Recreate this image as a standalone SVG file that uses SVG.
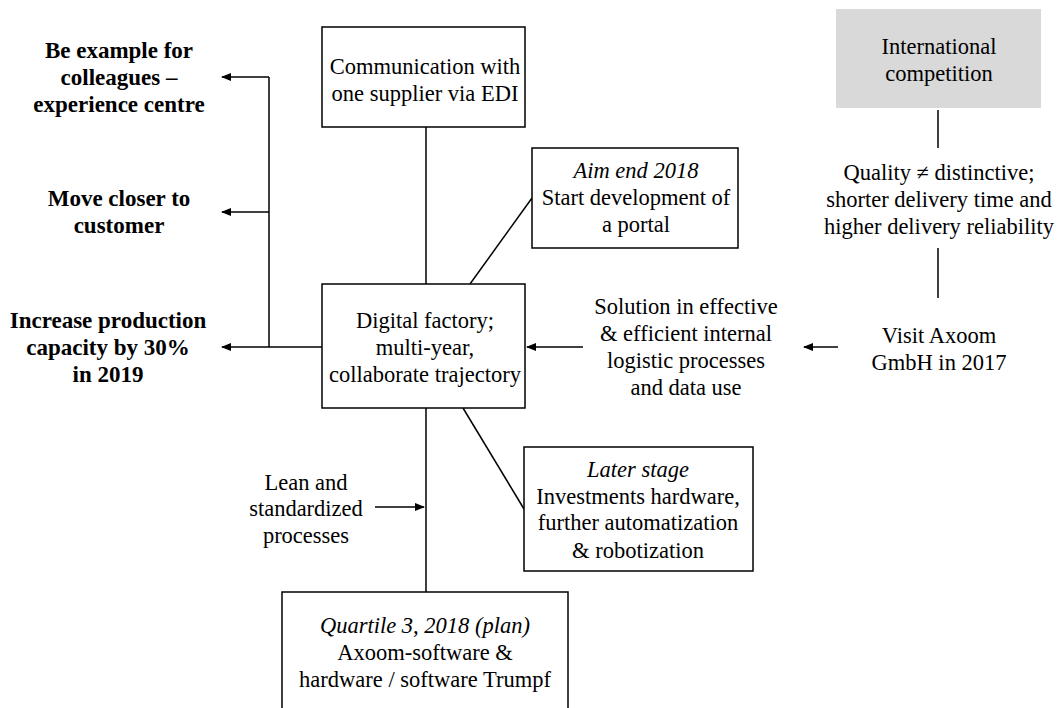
<svg xmlns="http://www.w3.org/2000/svg" width="1062" height="708" viewBox="0 0 1062 708">
<defs>
<marker id="ah" viewBox="0 0 10 10" refX="9" refY="5" markerWidth="10" markerHeight="10" markerUnits="userSpaceOnUse" orient="auto">
<path d="M0,1 L10,5 L0,9 z" fill="#000"/>
</marker>
<style>
.box{fill:#fff;stroke:#000;stroke-width:1.5}
.gbox{fill:#d9d9d9;stroke:none}
.t{font-family:"Liberation Serif","Times New Roman",serif;font-size:22.5px;text-anchor:middle;fill:#000}
.b{font-weight:bold;font-size:23px}
.i{font-style:italic}
.ln{stroke:#000;stroke-width:1.5;fill:none}
.ar{stroke:#000;stroke-width:1.5;fill:none;marker-end:url(#ah)}
</style>
</defs>
<rect width="1062" height="708" fill="#fff"/>
<g id="connectors">
<line class="ln" x1="426" y1="127" x2="426" y2="284"/>
<line class="ln" x1="470" y1="284" x2="532" y2="198"/>
<line class="ln" x1="426" y1="408" x2="426" y2="592"/>
<line class="ln" x1="463" y1="408" x2="524" y2="509"/>
<line class="ln" x1="938" y1="110" x2="938" y2="148"/>
<line class="ln" x1="938" y1="248" x2="938" y2="298"/>
<line class="ln" x1="269" y1="77" x2="269" y2="347"/>
<line class="ar" x1="322" y1="347" x2="222" y2="347"/>
<line class="ar" x1="269" y1="77" x2="222" y2="77"/>
<line class="ar" x1="269" y1="212" x2="222" y2="212"/>
<line class="ar" x1="583" y1="347" x2="527" y2="347"/>
<line class="ar" x1="838" y1="347" x2="804" y2="347"/>
<line class="ar" x1="375" y1="507" x2="424" y2="507"/>
</g>
<g id="goals">
<text class="t b" x="119" y="58">Be example for</text>
<text class="t b" x="119" y="85">colleagues –</text>
<text class="t b" x="119" y="112">experience centre</text>
<text class="t b" x="119" y="206">Move closer to</text>
<text class="t b" x="119" y="233">customer</text>
<text class="t b" x="108" y="328">Increase production</text>
<text class="t b" x="108" y="355">capacity by 30%</text>
<text class="t b" x="108" y="382">in 2019</text>
</g>
<g id="communication">
<rect class="box" x="322" y="27" width="203" height="100"/>
<text class="t" x="425" y="74">Communication with</text>
<text class="t" x="425" y="101">one supplier via EDI</text>
</g>
<g id="digital">
<rect class="box" x="322" y="284" width="203" height="124"/>
<text class="t" x="425" y="328">Digital factory;</text>
<text class="t" x="425" y="355">multi-year,</text>
<text class="t" x="425" y="382">collaborate trajectory</text>
</g>
<g id="aim">
<rect class="box" x="532" y="148" width="206" height="100"/>
<text class="t i" x="636" y="178">Aim end 2018</text>
<text class="t" x="636" y="205">Start development of</text>
<text class="t" x="636" y="232">a portal</text>
</g>
<g id="international">
<rect class="gbox" x="836" y="9" width="205" height="99"/>
<text class="t" x="939" y="54">International</text>
<text class="t" x="939" y="81">competition</text>
</g>
<g id="quality">
<text class="t" x="939" y="180">Quality ≠ distinctive;</text>
<text class="t" x="939" y="207">shorter delivery time and</text>
<text class="t" x="939" y="234">higher delivery reliability</text>
</g>
<g id="visit">
<text class="t" x="939" y="343">Visit Axoom</text>
<text class="t" x="939" y="370">GmbH in 2017</text>
</g>
<g id="solution">
<text class="t" x="686" y="314">Solution in effective</text>
<text class="t" x="686" y="341">&amp; efficient internal</text>
<text class="t" x="686" y="368">logistic processes</text>
<text class="t" x="686" y="395">and data use</text>
</g>
<g id="later">
<rect class="box" x="524" y="447" width="229" height="124"/>
<text class="t i" x="638" y="477">Later stage</text>
<text class="t" x="638" y="504">Investments hardware,</text>
<text class="t" x="638" y="530">further automatization</text>
<text class="t" x="638" y="558">&amp; robotization</text>
</g>
<g id="lean">
<text class="t" x="306" y="490">Lean and</text>
<text class="t" x="306" y="516">standardized</text>
<text class="t" x="306" y="543">processes</text>
</g>
<g id="quartile">
<rect class="box" x="282" y="592" width="286" height="130"/>
<text class="t i" x="425" y="633">Quartile 3, 2018 (plan)</text>
<text class="t" x="425" y="660">Axoom-software &amp;</text>
<text class="t" x="425" y="687">hardware / software Trumpf</text>
</g>
</svg>
